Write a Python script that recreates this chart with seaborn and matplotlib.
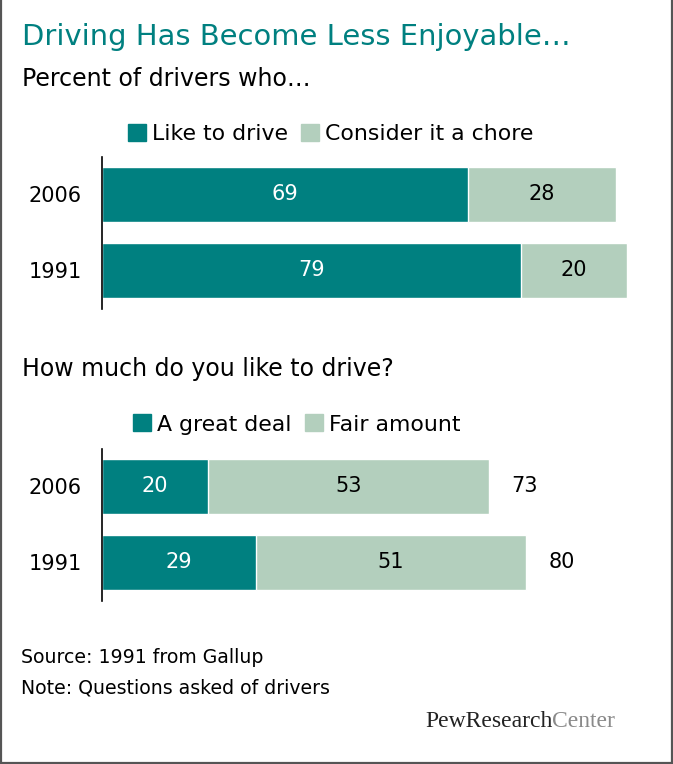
import numpy as np
import pandas as pd
import matplotlib
matplotlib.use("Agg")
import matplotlib.pyplot as plt
from matplotlib.patches import Patch
from matplotlib.lines import Line2D
import seaborn as sns

# data
years = ["2006", "1991"]
like_to_drive = [69, 79]
chore = [28, 20]
great_deal = [20, 29]
fair_amount = [53, 51]
like_totals = [73, 80]

TEAL = "#008080"
LIGHT = "#b3cfbd"

sns.set_theme(style="white")
plt.rcParams["font.family"] = ["DejaVu Sans"]
plt.rcParams["text.color"] = "black"
plt.rcParams["ytick.color"] = "black"

W, H = 673, 764
fig = plt.figure(figsize=(W / 100, H / 100), dpi=100)


def px_axes(left, top, width, height):
    return fig.add_axes([left / W, 1 - (top + height) / H, width / W, height / H])


def stacked(ax, first, second, labels):
    df = pd.DataFrame({"year": labels, "first": first,
                       "total": np.array(first) + np.array(second)})
    sns.barplot(data=df, y="year", x="total", color=LIGHT, width=0.72,
                saturation=1, ax=ax, orient="h")
    sns.barplot(data=df, y="year", x="first", color=TEAL, width=0.72,
                saturation=1, ax=ax, orient="h")
    for i in range(len(labels)):
        ax.text(first[i] / 2, i, str(first[i]), color="white", ha="center",
                va="center", fontsize=15)
        ax.text(first[i] + second[i] / 2, i, str(second[i]), color="black",
                ha="center", va="center", fontsize=15)
    ax.set_xlim(0, 100)
    ax.set_ylim(1.5, -0.5)
    ax.set_xlabel("")
    ax.set_ylabel("")
    ax.set_xticks([])
    for s in ["top", "right", "bottom"]:
        ax.spines[s].set_visible(False)
    ax.spines["left"].set_color("black")
    ax.spines["left"].set_linewidth(1.2)
    ax.tick_params(axis="y", length=0, pad=14.4, labelsize=15)


def legend(ax, labels, x0, y0):
    ax.legend(handles=[Patch(color=TEAL, label=labels[0]),
                       Patch(color=LIGHT, label=labels[1])],
              loc="center left", bbox_to_anchor=(x0, y0), ncol=2,
              frameon=False, fontsize=15.8, handlelength=0.82,
              handleheight=0.82, handletextpad=0.27, columnspacing=0.6,
              borderpad=0, borderaxespad=0)


# top panel
ax1 = px_axes(102, 156.5, 530, 152)
stacked(ax1, like_to_drive, chore, years)
legend(ax1, ["Like to drive", "Consider it a chore"], 26 / 530, 1.148)

# bottom panel
ax2 = px_axes(102, 448.5, 530, 152)
stacked(ax2, great_deal, fair_amount, years)
for i, tot in enumerate(like_totals):
    ax2.text(tot + 4.3, i, str(tot), ha="left", va="center", fontsize=15,
             color="black")
legend(ax2, ["A great deal", "Fair amount"], 31 / 530, 1.158)

# titles and notes
fig.text(22 / W, 1 - 45 / H, "Driving Has Become Less Enjoyable…", color=TEAL,
         fontsize=20.9, va="baseline", ha="left")
fig.text(22 / W, 1 - 86 / H, "Percent of drivers who…",
         fontsize=17, va="baseline", ha="left")
fig.text(22 / W, 1 - 376 / H, "How much do you like to drive?",
         fontsize=17, va="baseline", ha="left")
fig.text(21 / W, 1 - 663 / H, "Source: 1991 from Gallup",
         fontsize=13.6, va="baseline", ha="left")
fig.text(21 / W, 1 - 693 / H, "Note: Questions asked of drivers",
         fontsize=13.6, va="baseline", ha="left")

logo = fig.text(425 / W, 1 - 727 / H, "PewResearch", color="#222222",
                fontsize=17, va="baseline", ha="left",
                family=["Liberation Serif", "DejaVu Serif"])
ax1.annotate("Center", xy=(1, 0), xycoords=logo, va="bottom", ha="left",
             color="#8a8a8a", fontsize=17,
             family=["Liberation Serif", "DejaVu Serif"])

# frame on left, right and bottom
for xs, ys in [([1 / W, 1 / W], [0, 1]),
               ([671.5 / W, 671.5 / W], [0, 1]),
               ([0, 1], [1.5 / H, 1.5 / H])]:
    fig.add_artist(Line2D(xs, ys, color="#555555", lw=1.6,
                          transform=fig.transFigure))

fig.savefig("out.png", dpi=100)
